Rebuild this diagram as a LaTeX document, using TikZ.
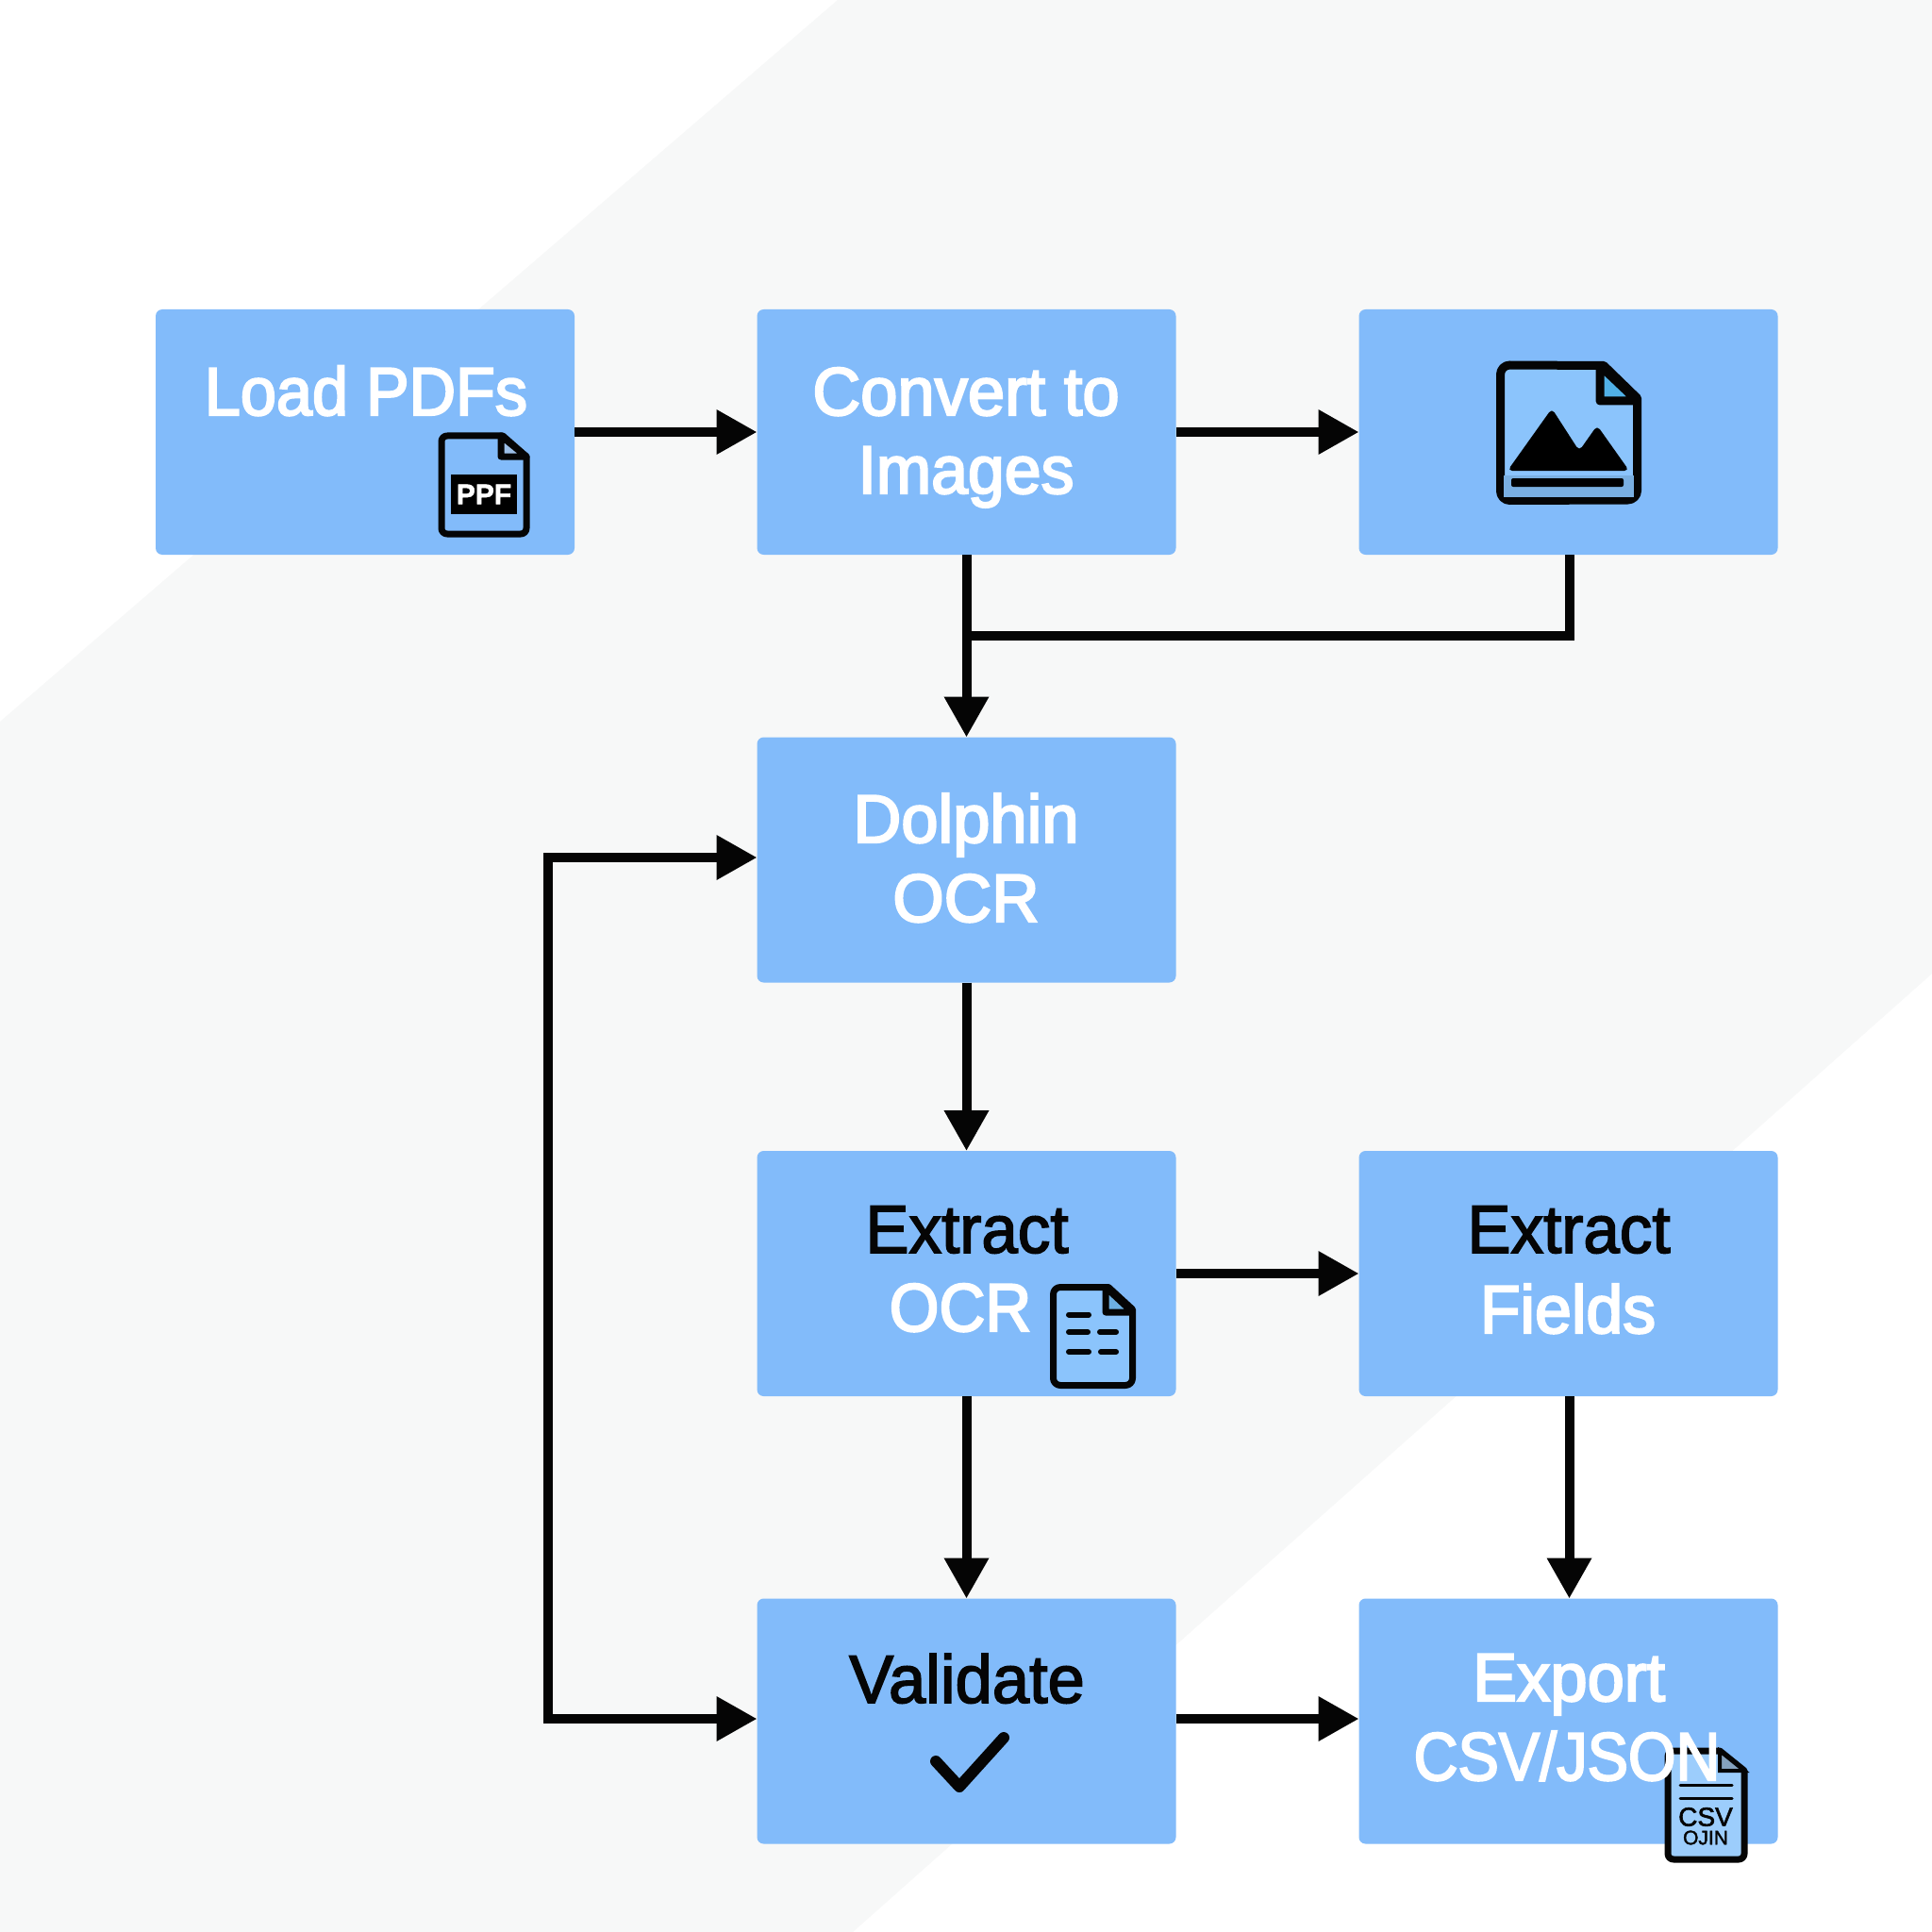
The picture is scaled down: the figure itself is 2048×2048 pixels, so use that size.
\documentclass[tikz,border=0pt]{standalone}
\usepackage{fontspec}
\usepackage{graphicx}
\setmainfont[FakeStretch=0.97,FakeBold=3]{Liberation Sans}
\newfontfamily\darkfont[FakeStretch=0.97,FakeBold=2.2]{Liberation Sans}
\newfontfamily\iconfont[FakeBold=2]{Liberation Sans}
\usetikzlibrary{arrows.meta}
\newcommand{\xfit}[2]{\scalebox{#1}[1]{#2}}
\definecolor{boxblue}{HTML}{82BBFA}
\definecolor{bgband}{HTML}{F7F8F8}
\definecolor{inkblack}{HTML}{050505}
\definecolor{pagefill}{HTML}{8BC4FC}
\tikzset{
  x=0.5pt,y=-0.5pt,
  boxnode/.style={fill=boxblue,draw=none,rounded corners=3.5pt,minimum width=222pt,minimum height=130pt,inner sep=0pt,outer sep=0pt},
  txt/.style={anchor=base,inner sep=0pt,outer sep=0pt,font=\fontsize{36}{40}\selectfont},
  wtxt/.style={txt,text=white},
  ktxt/.style={txt,text=inkblack,font=\darkfont\fontsize{36}{40}\selectfont},
  flow/.style={draw=inkblack,line width=5pt,line join=miter,-{Triangle[length=21.5pt,width=22.5pt]}},
  plainline/.style={draw=inkblack,line width=5pt,line join=miter},
  iconline/.style={draw=inkblack,line join=round,line cap=round},
  iconthin/.style={iconline,line width=3.5pt},
  dashstroke/.style={iconline,line width=3pt},
}
\begin{document}
\begin{tikzpicture}
\useasboundingbox (0,0) rectangle (2048,2048);
\fill[white] (0,0) rectangle (2048,2048);
\fill[bgband] (888,0) -- (2048,0) -- (2048,1032) -- (904,2048) -- (0,2048) -- (0,765) -- cycle;

% boxes
\node[boxnode] (load) at (387,458) {};
\node[boxnode] (conv) at (1024.5,458) {};
\node[boxnode] (image) at (1662.5,458) {};
\node[boxnode] (dolphin) at (1024.5,911.5) {};
\node[boxnode] (extract) at (1024.5,1350) {};
\node[boxnode] (fields) at (1662.5,1350) {};
\node[boxnode] (validate) at (1024.5,1824.5) {};
\node[boxnode] (export) at (1662.5,1824.5) {};

% connectors
\coordinate (junction) at (1024.5,674);
\coordinate (loopmid) at (581,1366);
\draw[flow] (load) -- (conv);
\draw[flow] (conv) -- (image);
\draw[flow] (conv) -- (dolphin);
\draw[plainline] ([xshift=0.5pt]image.south) |- (junction);
\draw[flow] (dolphin) -- (extract);
\draw[flow] (extract) -- (fields);
\draw[flow] (extract) -- (validate);
\draw[flow] ([xshift=0.5pt]fields.south) -- ([xshift=0.5pt]export.north);
\draw[flow] ([yshift=1.25pt]validate.east) -- ([yshift=1.25pt]export.west);
\draw[flow] (loopmid) |- ([yshift=1.25pt]dolphin.west);
\draw[flow] (loopmid) |- ([yshift=1.25pt]validate.west);

% PDF icon
\draw[iconthin,fill=boxblue] (468,468) arc[start angle=180,end angle=270,radius=6] -- (533,462) -- (558,484) -- (558,560) arc[start angle=0,end angle=90,radius=6] -- (474,566) arc[start angle=90,end angle=180,radius=6] -- cycle;
\draw[iconthin,fill=cyan!15!boxblue!70!white] (531,462) -- (531,484) -- (558,484) -- cycle;
\fill[black] (478,503) rectangle (548,545);
\node[inner sep=0pt,text=white,font=\iconfont\bfseries\fontsize{15}{15}\selectfont] (pdflabel) at (513,524) {PPF};

% image icon
\draw[iconline,line width=4.5pt,fill=pagefill] (1590.5,397) arc[start angle=180,end angle=270,radius=10] -- (1700,387.5) -- (1735.5,422) -- (1735.5,520) arc[start angle=0,end angle=90,radius=10] -- (1600.5,530.5) arc[start angle=90,end angle=180,radius=10] -- cycle;
\fill[cyan!15!pagefill] (1594,504) rectangle (1732,527);
\draw[iconline,line width=4.5pt,fill=cyan!45!pagefill] (1696,387.5) -- (1696,425) -- (1735.5,425) -- cycle;
\fill[black,rounded corners=2.5pt] (1598,499) -- (1645,433) -- (1674,478) -- (1693,451) -- (1727,499) -- cycle;
\fill[black,rounded corners=1pt] (1602,507) rectangle (1721,516);

% document icon
\draw[iconthin,fill=pagefill] (1116.5,1372) arc[start angle=180,end angle=270,radius=7.5] -- (1175,1364.5) -- (1200.5,1388) -- (1200.5,1461) arc[start angle=0,end angle=90,radius=7.5] -- (1124,1468.5) arc[start angle=90,end angle=180,radius=7.5] -- cycle;
\draw[iconthin,fill=cyan!25!pagefill] (1172,1364.5) -- (1172,1391) -- (1200.5,1391) -- cycle;
\draw[dashstroke] (1133,1393.5) -- (1154,1393.5);
\draw[dashstroke] (1133,1412) -- (1153,1412);
\draw[dashstroke] (1166,1412) -- (1183,1412);
\draw[dashstroke] (1133,1433) -- (1154,1433);
\draw[dashstroke] (1167,1433) -- (1183,1433);

% check mark
\draw[iconline,line width=6pt] (992,1867) -- (1017,1894) -- (1064,1842);

% CSV icon
\draw[iconthin,fill=pagefill!85!white] (1768,1862) arc[start angle=180,end angle=270,radius=6] -- (1823,1856) -- (1849,1877) -- (1849,1965) arc[start angle=0,end angle=90,radius=6] -- (1774,1971) arc[start angle=90,end angle=180,radius=6] -- cycle;
\fill[gray!50!pagefill,draw=inkblack,line width=2pt] (1823,1856) -- (1823,1877) -- (1849,1877) -- cycle;
\draw[iconline,line width=1.5pt] (1781,1892) -- (1836,1892);
\draw[iconline,line width=1.5pt] (1781,1906) -- (1836,1906);
\node[inner sep=0pt,text=inkblack,font=\iconfont\fontsize{14}{14}\selectfont] (csvlabel) at (1808,1926) {CSV};
\node[inner sep=0pt,text=inkblack,font=\iconfont\fontsize{10.5}{11}\selectfont] (csvlabelb) at (1808,1948) {OJIN};

% labels
\node[wtxt] (t1) at (388,440) {\xfit{0.98}{Load PDFs}};
\node[wtxt] (t2a) at (1024,440) {\xfit{1.01}{Convert to}};
\node[wtxt] (t2b) at (1024,523) {Images};
\node[wtxt] (t3a) at (1024,893) {\xfit{1.01}{Dolphin}};
\node[wtxt] (t3b) at (1024,977) {OCR};
\node[ktxt] (t4a) at (1025,1328) {\xfit{0.99}{Extract}};
\node[wtxt] (t4b) at (1018,1411) {\xfit{0.97}{OCR}};
\node[ktxt] (t5a) at (1663,1328) {\xfit{0.99}{Extract}};
\node[wtxt] (t5b) at (1662,1413) {Fields};
\node[ktxt] (t6) at (1025,1805) {\xfit{1.01}{Validate}};
\node[wtxt] (t7a) at (1663,1803) {\xfit{1.01}{Export}};
\node[wtxt] (t7b) at (1661,1887) {\xfit{0.93}{CSV/JSON}};
\end{tikzpicture}
\end{document}
